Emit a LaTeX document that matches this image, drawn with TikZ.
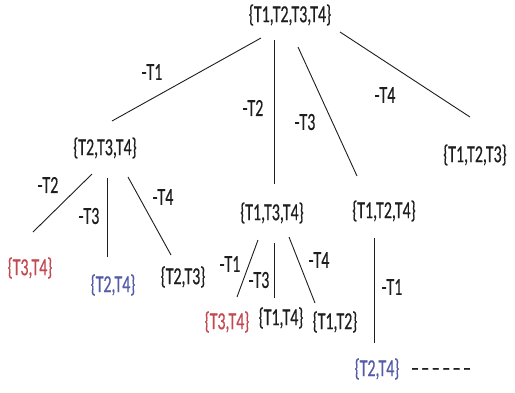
\documentclass[tikz,border=0pt]{standalone}
\usepackage{fontspec}
\setmainfont[FakeStretch=0.65,FakeBold=0.4]{Carlito}
\definecolor{setred}{RGB}{196,72,80}
\definecolor{setblue}{RGB}{84,92,168}
\definecolor{ink}{RGB}{30,30,30}
\begin{document}
\begin{tikzpicture}[x=1pt,y=-1pt,
  every node/.style={inner sep=0pt, anchor=center, text=ink, font=\fontsize{24.5}{24.5}\selectfont},
  edge/.style={draw=ink, line width=0.9pt},
  lbl/.style={},
  red set/.style={text=setred},
  blue set/.style={text=setblue}]
\useasboundingbox[fill=white] (0,0) rectangle (515,392);
% sets
\node (root) at (290,15) {\{T1,T2,T3,T4\}};
\node (n234) at (105,148) {\{T2,T3,T4\}};
\node (n134) at (272,213) {\{T1,T3,T4\}};
\node (n124) at (384,211) {\{T1,T2,T4\}};
\node (n123) at (475,155) {\{T1,T2,T3\}};
\node[red set] (a34) at (30,268) {\{T3,T4\}};
\node[blue set] (a24) at (113,285) {\{T2,T4\}};
\node (a23) at (183,277) {\{T2,T3\}};
\node[red set] (b34) at (227,322) {\{T3,T4\}};
\node (b14) at (281,318) {\{T1,T4\}};
\node (b12) at (335,322) {\{T1,T2\}};
\node[blue set] (c24) at (377,369) {\{T2,T4\}};
\node (dots) at (441,372) {–\hspace{2.5pt}–\hspace{2.5pt}–\hspace{2.5pt}–\hspace{2.5pt}–\hspace{2.5pt}–};
% edges
\draw[edge] ([shift={(-29,23)}]root.center) -- ([shift={(7,-27)}]n234.center);
\draw[edge] ([shift={(-16,25)}]root.center) -- ([shift={(2,-29)}]n134.center);
\draw[edge] ([shift={(8,32)}]root.center) -- ([shift={(-27,-35)}]n124.center);
\draw[edge] ([shift={(50,17)}]root.center) -- ([shift={(-5,-38)}]n123.center);
\draw[edge] ([shift={(-13,26)}]n234.center) -- ([shift={(3,-36)}]a34.center);
\draw[edge] ([shift={(2,30)}]n234.center) -- ([shift={(-6,-28)}]a24.center);
\draw[edge] ([shift={(23,29)}]n234.center) -- ([shift={(-12,-22)}]a23.center);
\draw[edge] ([shift={(-14,27)}]n134.center) -- ([shift={(10,-25)}]b34.center);
\draw[edge] ([shift={(2,30)}]n134.center) -- ([shift={(-7,-20)}]b14.center);
\draw[edge] ([shift={(17,24)}]n134.center) -- ([shift={(-20,-19)}]b12.center);
\draw[edge] ([shift={(-10,27)}]n124.center) -- ([shift={(-3,-26)}]c24.center);
% labels
\node[lbl] (l1) at (152,72) {-T1};
\node[lbl] (l2) at (253,108) {-T2};
\node[lbl] (l3) at (305,122) {-T3};
\node[lbl] (l4) at (385,95) {-T4};
\node[lbl] (l5) at (48,185) {-T2};
\node[lbl] (l6) at (89,216) {-T3};
\node[lbl] (l7) at (163,197) {-T4};
\node[lbl] (l8) at (230,264) {-T1};
\node[lbl] (l9) at (259,280) {-T3};
\node[lbl] (l10) at (319,260) {-T4};
\node[lbl] (l11) at (392,287) {-T1};
\end{tikzpicture}
\end{document}
